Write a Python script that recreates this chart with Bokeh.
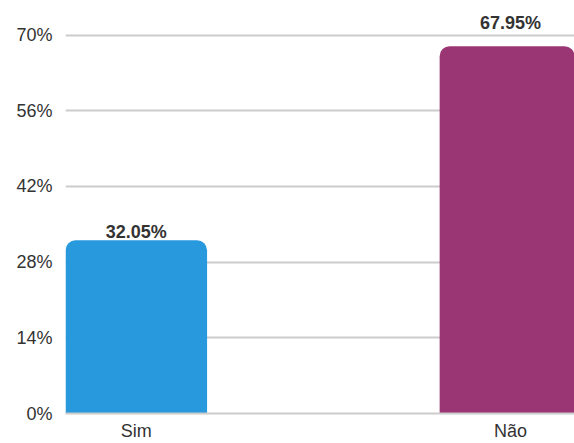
from bokeh.plotting import figure
from bokeh.models import ColumnDataSource, FixedTicker, Range1d
from bokeh.embed import file_html
from bokeh.resources import INLINE
from bokeh.core.properties import value

categories = ["Sim", "Não"]
percentages = [32.05, 67.95]
bar_colors = ["#2899dd", "#9b3675"]
label_texts = ["32.05%", "67.95%"]
label_offsets = [-8, -23]
y_ticks = [0, 14, 28, 42, 56, 70]
y_tick_labels = ["0%", "14%", "28%", "42%", "56%", "70%"]

xs = list(range(len(categories)))
src = ColumnDataSource(dict(x=xs, top=percentages, color=bar_colors,
                            label=label_texts, yoff=label_offsets))

p = figure(width=574, height=443, output_backend="svg", toolbar_location=None,
           x_range=Range1d(-0.189, 1.171), y_range=Range1d(0, 76.4),
           min_border_left=65, min_border_right=0, min_border_top=0, min_border_bottom=29)
p.outline_line_color = None
p.background_fill_color = "white"
p.border_fill_color = "white"

p.vbar(x="x", top="top", bottom=0, width=0.3786, color="color", source=src,
       line_color=None, border_radius=(10, 10, 0, 0))

p.text(x="x", y="top", text="label", y_offset="yoff", source=src,
       text_align="center", text_baseline="alphabetic",
       text_font=value("Liberation Sans"), text_font_style="bold",
       text_font_size="18px", text_color="#333333")

FONT = "Liberation Sans"
# y axis
p.yaxis.ticker = FixedTicker(ticks=y_ticks)
p.yaxis.major_label_overrides = {t: l for t, l in zip(y_ticks, y_tick_labels)}
p.yaxis.axis_line_color = None
p.yaxis.major_tick_line_color = None
p.yaxis.minor_tick_line_color = None
p.yaxis.major_tick_out = 0
p.yaxis.major_label_standoff = 13
p.yaxis.major_label_text_font = FONT
p.yaxis.major_label_text_font_size = "18px"
p.yaxis.major_label_text_color = "#333333"

# x axis
p.xaxis.ticker = FixedTicker(ticks=xs)
p.xaxis.major_label_overrides = {x: c for x, c in zip(xs, categories)}
p.xaxis.axis_line_color = "#cccccc"
p.xaxis.axis_line_width = 2
p.xaxis.major_tick_line_color = None
p.xaxis.minor_tick_line_color = None
p.xaxis.major_tick_out = 0
p.xaxis.major_label_standoff = 7
p.xaxis.major_label_text_font = FONT
p.xaxis.major_label_text_font_size = "18px"
p.xaxis.major_label_text_color = "#333333"

p.xgrid.grid_line_color = None
p.ygrid.grid_line_color = "#cccccc"
p.ygrid.grid_line_width = 2

open("out.html", "w").write(file_html(p, INLINE))
